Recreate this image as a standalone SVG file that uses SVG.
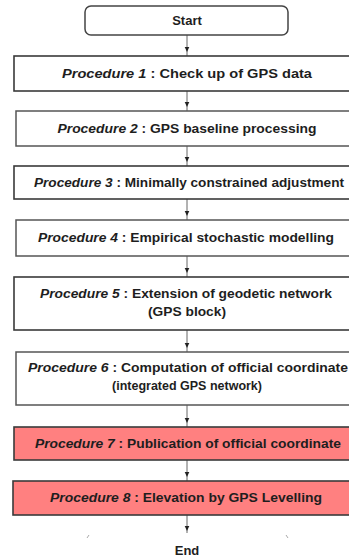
<svg xmlns="http://www.w3.org/2000/svg" width="349" height="560" viewBox="0 0 349 560">
<defs>
<style>
.bg{fill:#ffffff}
.box{fill:#ffffff;stroke:#3a3a3a;stroke-width:1.6}
.boxl{fill:#ffffff;stroke:#555;stroke-width:1.5}
.red{fill:#ff8080;stroke:#3a3a3a;stroke-width:1.6}
.term{fill:#ffffff;stroke:#444;stroke-width:1.5}
.t{font-family:"Liberation Sans",Arial,sans-serif;font-size:12.5px;font-weight:bold;fill:#1e1e1e;text-anchor:middle}
.big{font-size:13px}
.i{font-style:italic}
.conn{fill:none;stroke:#666;stroke-width:1;marker-mid:url(#ah)}
.tick{fill:none;stroke:#aaa;stroke-width:1}
</style>
<marker id="ah" markerWidth="6" markerHeight="6" refX="5" refY="3" orient="auto" markerUnits="userSpaceOnUse">
<path d="M0,0.7 L5,3 L0,5.3 Z" fill="#222"/>
</marker>
</defs>
<rect class="bg" x="0" y="0" width="349" height="560"/>

<g id="connectors">
<path class="conn" d="M187,35 L187,52 L187,56"/>
<path class="conn" d="M187,91 L187,107 L187,111"/>
<path class="conn" d="M187,146 L187,162 L187,166"/>
<path class="conn" d="M187,199 L187,216 L187,220"/>
<path class="conn" d="M187,256 L187,273 L187,277"/>
<path class="conn" d="M187,330 L187,348 L187,352"/>
<path class="conn" d="M187,405 L187,423 L187,427"/>
<path class="conn" d="M187,460 L187,477 L187,481"/>
<path class="conn" d="M187,515 L187,531 L187,533"/>
</g>

<g id="start">
<rect class="term" x="85" y="6" width="203" height="29" rx="6"/>
<text class="t big" x="187" y="25">Start</text>
</g>

<g id="p1">
<rect class="box" x="14" y="56" width="346" height="35"/>
<text class="t" x="187" y="78" textLength="250" lengthAdjust="spacingAndGlyphs"><tspan class="i">Procedure 1</tspan> : Check up of GPS data</text>
</g>

<g id="p2">
<rect class="boxl" x="16" y="111" width="344" height="35"/>
<text class="t" x="187" y="133" textLength="259" lengthAdjust="spacingAndGlyphs"><tspan class="i">Procedure 2</tspan> : GPS baseline processing</text>
</g>

<g id="p3">
<rect class="box" x="14" y="166" width="346" height="33"/>
<text class="t" x="189" y="187" textLength="310" lengthAdjust="spacingAndGlyphs"><tspan class="i">Procedure 3</tspan> : Minimally constrained adjustment</text>
</g>

<g id="p4">
<rect class="boxl" x="16" y="220" width="344" height="36"/>
<text class="t" x="186" y="242" textLength="296" lengthAdjust="spacingAndGlyphs"><tspan class="i">Procedure 4</tspan> : Empirical stochastic modelling</text>
</g>

<g id="p5">
<rect class="box" x="14" y="277" width="346" height="53"/>
<text class="t" x="186" y="298" textLength="292" lengthAdjust="spacingAndGlyphs"><tspan class="i">Procedure 5</tspan> : Extension of geodetic network</text>
<text class="t" x="187" y="316" textLength="78" lengthAdjust="spacingAndGlyphs">(GPS block)</text>
</g>

<g id="p6">
<rect class="boxl" x="16" y="352" width="344" height="53"/>
<text class="t" x="188" y="372" textLength="320" lengthAdjust="spacingAndGlyphs"><tspan class="i">Procedure 6</tspan> : Computation of official coordinate</text>
<text class="t" x="187" y="390" textLength="150" lengthAdjust="spacingAndGlyphs">(integrated GPS network)</text>
</g>

<g id="p7">
<rect class="red" x="14" y="427" width="346" height="33"/>
<text class="t" x="188" y="448" textLength="306" lengthAdjust="spacingAndGlyphs"><tspan class="i">Procedure 7</tspan> : Publication of official coordinate</text>
</g>

<g id="p8">
<rect class="red" x="13" y="481" width="347" height="34"/>
<text class="t" x="186" y="502" textLength="272" lengthAdjust="spacingAndGlyphs"><tspan class="i">Procedure 8</tspan> : Elevation by GPS Levelling</text>
</g>

<g id="end">
<path class="tick" d="M87,538 L89,535"/>
<path class="tick" d="M286,535 L288,538"/>
<text class="t big" x="187" y="555">End</text>
</g>
</svg>
